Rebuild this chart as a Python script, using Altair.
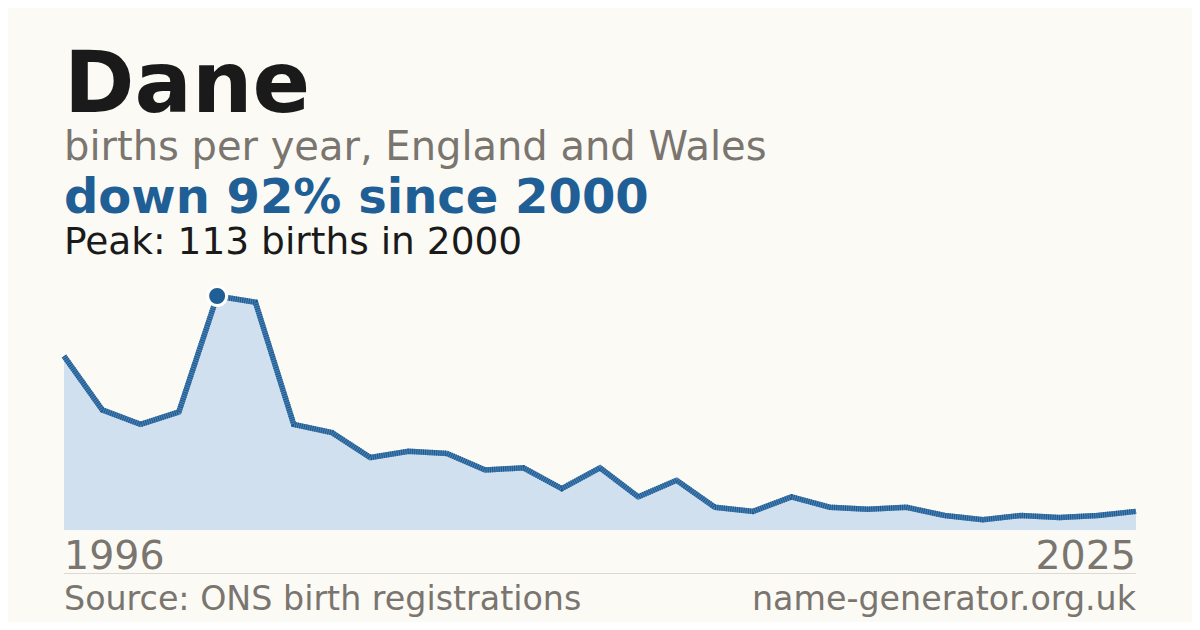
import altair as alt
import pandas as pd

# ---- data ----
years = list(range(1996, 2025))
births = [84, 58, 51, 57, 113, 110, 51, 47, 35, 38, 37, 29, 30, 20, 30,
          16, 24, 11, 9, 16, 11, 10, 11, 7, 5, 7, 6, 7, 9]

title_text = "Dane"
subtitle_text = "births per year, England and Wales"
change_text = "down 92% since 2000"
peak_text = "Peak: 113 births in 2000"
start_label = "1996"
end_label = "2025"
source_text = "Source: ONS birth registrations"
site_text = "name-generator.org.uk"

df = pd.DataFrame({"year": years, "births": births})
peak_i = births.index(max(births))
peak_df = pd.DataFrame({"year": [years[peak_i]], "births": [births[peak_i]]})
one = pd.DataFrame({"k": [0]})

W, H = 1072, 234
FONT = "DejaVu Sans"
BLUE = "#1f5f96"
GRAY = "#7a756e"

xs = alt.X("year:Q", scale=alt.Scale(domain=[years[0], years[-1]], nice=False, zero=False), axis=None)
ys = alt.Y("births:Q", scale=alt.Scale(domain=[0, max(births)], nice=False), axis=None)

base = alt.Chart(df)
area = base.mark_area(color="#d0e0ef", opacity=1).encode(x=xs, y=ys)
line_base = base.mark_line(color="#4a80b3", strokeWidth=5.5, strokeJoin="miter").encode(x=xs, y=ys)
line_tex = base.mark_line(color="#1b588e", strokeWidth=5.5, strokeDash=[1, 1.2], strokeJoin="miter").encode(x=xs, y=ys)
peak = alt.Chart(peak_df).mark_point(filled=True, shape="circle", size=361, color=BLUE,
                                     stroke="white", strokeWidth=3, opacity=1).encode(x=xs, y=ys)


def txt(text, y, size, color, weight="normal", x=0, align="left"):
    return alt.Chart(one).mark_text(text=text, font=FONT, fontSize=size, color=color,
                                    fontWeight=weight, align=align, baseline="alphabetic").encode(
        x=alt.value(x), y=alt.value(y))


texts = [
    txt(title_text, -184, 85, "#1a1a1a", "bold"),
    txt(subtitle_text, -136, 40, GRAY),
    txt(change_text, -83, 48, BLUE, "bold"),
    txt(peak_text, -42, 37.5, "#1a1a1a"),
    txt(start_label, 273, 39.5, GRAY),
    txt(end_label, 273, 39.5, GRAY, x=W, align="right"),
    txt(source_text, 314, 33.3, GRAY),
    txt(site_text, 314, 33.3, GRAY, x=W, align="right"),
]

sep = alt.Chart(one).mark_rule(color="#dcd9d2", strokeWidth=1).encode(
    x=alt.value(0), x2=alt.value(W), y=alt.value(277.5))

chart = alt.layer(area, line_base, line_tex, peak, sep, *texts).properties(
    width=W, height=H,
    autosize=alt.AutoSizeParams(type="none"),
    padding={"left": 56, "top": 288, "right": 56, "bottom": 92},
    background="#fbfaf5",
).configure_view(strokeWidth=0)

chart.save("out.html", embed_options={"renderer": "svg", "actions": False})
